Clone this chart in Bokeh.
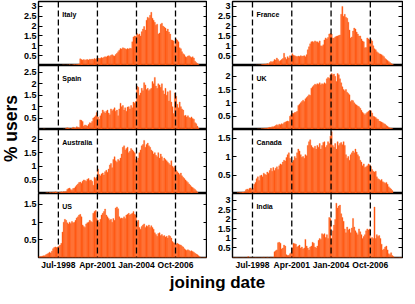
import math
import pandas as pd
from bokeh.plotting import figure
from bokeh.models import (Range1d, FixedTicker, LinearAxis, NumeralTickFormatter,
                          DatetimeTickFormatter, ColumnDataSource, Span, Label)
from bokeh.layouts import row, column
from bokeh.embed import file_html
from bokeh.resources import INLINE

# ---------------- data (monthly % of users, Jan 1997 .. Dec 2008) ----------------
start_month = "1997-01-01"
tick_dates = ["1998-07-01", "2001-04-01", "2004-01-01", "2006-10-01"]
tick_labels = ["Jul-1998", "Apr-2001", "Jan-2004", "Oct-2006"]

italy = [0,0,0,0,0,0,0,0,0,0,0,0,
         0,0,0,0,0,0,0,0,0,0.02,0.03,0.02,
         0.02,0.03,0.02,0.04,0.03,0.03,0.04,0.05,0.04,0.05,0.06,0.08,
         0.34,0.3,0.28,0.3,0.27,0.29,0.3,0.28,0.32,0.3,0.33,0.31,
         0.35,0.32,0.36,0.38,0.35,0.37,0.4,0.38,0.42,0.45,0.43,0.48,
         0.5,0.46,0.52,0.55,0.5,0.48,0.56,0.62,0.7,0.78,0.86,0.84,
         0.9,0.88,0.85,0.82,0.86,0.84,0.88,0.86,1.2,1.45,1.5,1.48,
         1.62,1.55,1.6,1.5,1.72,1.85,1.98,1.8,2.3,2.45,2.4,2.55,
         2.7,2.4,2.3,2.2,2.05,2.1,1.6,1.65,2.1,2.15,2.0,1.95,
         1.9,1.75,1.85,1.7,1.6,1.3,1.28,1.25,1.0,1.35,1.28,1.2,
         0.9,0.85,0.7,0.6,0.55,0.45,0.42,0.48,0.5,0.45,0.4,0.44,
         0.38,0.22,0.15,0.1,0.05,0,0,0,0,0,0,0]

france = [0,0,0,0,0,0,0,0,0,0,0,0,
          0,0,0,0,0,0,0,0,0,0.02,0.02,0.03,
          0.03,0.04,0.05,0.06,0.08,0.07,0.1,0.08,0.15,0.2,0.18,0.22,
          0.3,0.28,0.38,0.3,0.22,0.25,0.3,0.35,0.62,0.4,0.32,0.45,
          0.38,0.5,0.48,0.6,0.52,0.5,0.47,0.45,0.48,0.46,0.5,0.47,
          0.48,0.5,0.45,0.55,0.8,0.95,1.1,1.2,1.22,1.18,1.25,1.2,
          1.2,1.15,1.25,1.0,0.98,1.05,1.3,1.4,1.35,1.42,1.6,1.62,
          1.6,1.4,1.38,1.45,1.48,1.5,1.52,1.55,2.6,3.0,2.5,2.6,
          2.45,2.4,2.2,1.8,1.4,1.45,1.75,1.9,1.85,1.7,1.6,1.5,
          1.5,1.35,1.25,1.2,0.9,0.92,1.4,1.35,1.3,1.32,1.25,1.0,
          0.85,0.8,0.7,0.65,0.6,0.58,0.55,0.5,0.45,0.35,0.3,0.25,
          0.2,0.15,0.1,0.06,0.03,0,0,0,0,0,0,0]

spain = [0,0,0,0,0,0.02,0.02,0,0,0,0,0,
         0,0,0,0,0,0,0,0,0,0.01,0.02,0.02,
         0.05,0.08,0.06,0.04,0.03,0.05,0.1,0.08,0.06,0.12,0.1,0.08,
         0.42,0.4,0.35,0.15,0.2,0.18,0.15,0.22,0.3,0.28,0.35,0.5,
         0.55,0.6,0.74,0.55,0.45,0.6,0.7,0.85,0.78,0.72,0.8,0.85,
         0.72,0.65,0.9,0.82,0.88,0.95,0.8,0.85,0.6,0.9,1.15,1.0,
         1.05,0.85,0.95,0.8,0.98,1.0,0.9,1.05,0.95,1.2,1.15,1.22,
         1.9,1.85,1.5,1.6,1.8,1.7,2.05,1.95,1.75,1.8,1.7,1.75,
         1.8,2.1,2.0,2.28,1.9,1.8,2.0,1.95,1.85,2.0,1.7,1.55,
         1.8,1.5,1.65,1.25,1.7,1.2,1.0,0.7,1.6,1.45,1.1,0.95,
         1.2,1.0,0.9,0.85,0.6,0.62,0.55,0.6,0.52,0.5,0.55,0.48,
         0.45,0.3,0.25,0.15,0.05,0,0,0,0,0,0,0]

uk = [0,0,0,0,0,0,0,0,0,0,0,0,
      0,0,0,0,0,0,0,0,0,0.01,0.02,0.02,
      0.02,0.03,0.03,0.04,0.05,0.05,0.06,0.07,0.08,0.08,0.1,0.1,
      0.12,0.15,0.18,0.15,0.2,0.18,0.22,0.2,0.25,0.28,0.3,0.32,
      0.3,0.5,0.55,0.62,0.6,0.64,0.65,0.68,0.9,0.95,1.0,1.05,
      1.1,1.05,1.15,1.2,1.25,1.3,1.28,1.55,1.6,1.65,1.7,1.68,
      1.72,1.7,1.75,1.68,1.72,1.7,1.75,1.72,1.9,1.95,1.92,2.05,
      2.1,2.05,2.08,2.0,1.8,2.1,2.05,1.9,1.75,1.6,1.5,1.45,
      1.5,1.4,1.35,1.3,1.05,1.1,1.08,1.0,0.95,0.92,0.88,0.85,
      0.8,0.72,0.65,0.6,0.55,0.6,0.65,0.68,0.72,0.7,0.62,0.5,
      0.48,0.45,0.4,0.38,0.32,0.3,0.28,0.25,0.22,0.2,0.15,0.12,
      0.08,0.06,0.05,0.03,0,0,0,0,0,0,0,0]

australia = [0,0,0,0,0,0,0,0.02,0.03,0.02,0.03,0.04,
             0.03,0.05,0.04,0.06,0.05,0.04,0.03,0.05,0.06,0.05,0.07,0.06,
             0.08,0.15,0.18,0.2,0.15,0.12,0.18,0.2,0.25,0.3,0.35,0.4,
             0.42,0.38,0.45,0.5,0.48,0.45,0.52,0.55,0.48,0.5,0.45,0.3,
             0.6,0.55,0.6,0.9,0.7,0.65,0.72,0.75,0.68,0.8,0.85,0.78,
             0.9,1.05,1.1,0.95,1.25,1.35,1.2,1.15,1.25,1.2,1.3,1.45,
             1.7,1.75,1.6,1.65,1.7,1.5,1.55,1.65,1.6,1.55,1.5,1.25,
             1.2,1.3,1.5,1.6,1.75,1.8,1.95,1.7,1.8,1.85,1.75,1.7,
             1.6,1.55,1.45,1.5,1.4,1.35,1.5,1.3,1.45,1.35,1.2,1.3,
             1.25,1.2,1.15,1.1,1.05,1.2,1.0,0.95,1.0,0.85,0.8,0.75,
             0.7,0.75,0.65,0.6,0.55,0.5,0.45,0.4,0.35,0.3,0.25,0.22,
             0.18,0.15,0.1,0.05,0,0,0,0,0,0,0,0]

canada = [0,0,0,0,0,0.02,0.02,0.03,0.03,0.04,0.04,0.05,
          0.1,0.12,0.1,0.14,0.15,0.12,0.14,0.25,0.3,0.4,0.45,0.35,
          0.48,0.5,0.45,0.55,0.52,0.5,0.58,0.55,0.62,0.68,0.6,0.7,
          0.62,0.68,0.72,0.65,0.75,0.8,0.78,0.85,0.9,0.88,0.97,1.05,
          1.1,0.95,0.82,0.85,0.9,1.0,0.95,1.1,1.2,1.15,1.05,0.98,
          1.0,0.95,1.05,1.02,1.3,1.4,1.45,1.3,1.25,1.22,1.28,1.2,
          1.3,1.25,1.35,1.2,1.3,1.38,1.4,1.25,1.3,1.4,1.35,1.55,
          1.67,1.3,1.25,1.35,1.2,1.4,1.3,1.35,1.38,1.32,1.4,1.3,
          1.05,0.95,1.0,0.9,1.05,1.1,1.15,1.1,1.2,1.12,1.05,1.0,
          0.9,0.85,0.75,0.8,0.7,0.72,0.75,0.8,0.78,0.73,0.65,0.6,
          0.58,0.6,0.45,0.4,0.38,0.35,0.38,0.32,0.3,0.28,0.3,0.25,
          0.18,0.15,0.12,0.08,0,0,0,0,0,0,0,0]

us = [0,0.02,0.03,0.03,0.04,0.05,0.05,0.08,0.1,0.12,0.15,0.13,
      0.18,0.25,0.28,0.3,0.28,0.3,0.32,0.35,0.4,0.72,1.0,1.08,
      1.05,0.98,0.95,1.0,0.96,1.02,0.98,1.0,1.05,1.12,1.15,1.2,
      1.22,1.15,0.92,0.88,0.85,0.95,0.98,1.0,1.05,1.02,1.0,1.25,
      1.3,1.33,1.1,1.05,1.0,1.08,1.2,1.25,1.3,1.37,1.2,1.15,
      1.1,1.05,1.08,1.0,1.1,1.05,1.4,1.43,1.38,1.15,1.1,1.12,
      1.1,1.15,1.1,1.2,1.22,1.25,1.2,1.23,1.25,1.3,1.22,1.2,
      1.0,1.05,0.85,0.8,0.88,0.92,0.95,0.85,0.9,0.88,0.92,0.85,
      0.9,0.85,0.8,0.7,0.65,0.6,0.68,0.7,0.62,0.65,0.6,0.62,
      0.58,0.6,0.55,0.62,0.6,0.55,0.45,0.42,0.4,0.38,0.4,0.38,
      0.36,0.35,0.32,0.3,0.25,0.22,0.2,0.22,0.2,0.18,0.19,0.17,
      0.15,0.12,0.1,0.08,0.05,0.02,0,0,0,0,0,0]

india = [0,0,0,0,0,0,0,0,0,0,0,0,
         0,0,0.05,0,0,0,0,0,0,0,0,0,
         0,0,0,0.02,0,0,0.02,0,0,0.03,0,0.02,
         0.3,0.35,0.4,0.78,0.8,0.75,0.45,0.5,0.65,0.6,0.15,0.1,
         0.12,0.2,0.25,0.5,0.75,0.72,0.7,0.55,0.6,0.65,0.5,0.55,
         0.45,0.5,0.95,0.6,0.5,0.4,0.55,0.6,0.8,0.75,0.55,0.5,
         0.6,0.9,1.0,0.95,1.25,1.2,1.25,1.05,1.2,1.0,2.1,2.05,
         1.0,1.4,1.7,2.0,2.85,2.6,2.7,2.75,2.3,2.1,1.9,1.5,
         1.3,1.6,1.45,1.5,1.3,1.55,2.05,1.6,1.4,1.3,1.2,1.5,
         1.35,1.2,1.0,1.1,1.2,1.4,1.5,1.45,1.5,1.0,1.05,1.0,
         2.65,1.0,1.2,1.1,1.15,1.0,0.7,0.4,0.45,0.55,0.6,0.4,
         0.2,0.15,0.25,0.1,0.05,0,0,0,0,0,0,0]

y_ticks = [0.5, 1, 1.5, 2, 2.5, 3]

# panels: (name, values, y max)
left_panels = [("Italy", italy, 3.25), ("Spain", spain, 2.8),
               ("Australia", australia, 2.35), ("US", us, 1.81)]
right_panels = [("France", france, 3.25), ("UK", uk, 2.4),
                ("Canada", canada, 1.73), ("India", india, 3.36)]

# ---------------- drawing ----------------
months = pd.date_range(start_month, periods=len(italy), freq="MS")
x_mid = months + pd.Timedelta(days=15)
MS_DAY = 86400000
x0 = pd.Timestamp("1997-02-05")
x1 = pd.Timestamp("2009-01-01")
tick_ms = [pd.Timestamp(d).value // 10**6 for d in tick_dates]
name_x = pd.Timestamp("1998-10-10").value // 10**6

FONT = "Liberation Sans"
BAR_FILL = "#ff4800"
BAR_LINE = "#ff7433"
FH = 64
TOPB = 1
BOT = 12
YW = 20


def make_panel(name, vals, ymax, r, left):
    first, last = r == 0, r == 3
    p = figure(x_axis_type="datetime", x_range=Range1d(x0, x1), y_range=Range1d(0, ymax),
               frame_width=169 if left else 170, frame_height=FH,
               min_border_left=14 if left else 25, min_border_right=0 if left else 1,
               min_border_top=TOPB if first else 0, min_border_bottom=BOT if last else 0,
               x_axis_location="below" if last else None, y_axis_location="left",
               toolbar_location=None, output_backend="svg", background_fill_color="white",
               border_fill_color="white")
    p.outline_line_color = "black"
    p.outline_line_width = 1.4
    p.grid.visible = False
    src = ColumnDataSource(dict(x=x_mid, v=vals))
    p.vbar(x="x", top="v", width=28 * MS_DAY, source=src,
           fill_color=BAR_FILL, line_color=BAR_LINE, line_width=0.4)
    for t in tick_ms:
        p.add_layout(Span(location=t, dimension="height", line_color="black",
                          line_width=1.3, line_dash="6 3"))
    ticks = [t for t in y_ticks if t < ymax]
    ya = p.yaxis[0]
    ya.ticker = FixedTicker(ticks=ticks)
    ya.formatter = NumeralTickFormatter(format="0.[0]")
    ya.major_tick_in = 4
    ya.major_tick_out = 0
    ya.minor_tick_line_color = None
    ya.axis_line_color = None
    ya.major_tick_line_color = "black"
    ya.major_tick_line_width = 1.2
    ya.major_label_standoff = 2
    ya.major_label_text_font = FONT
    ya.major_label_text_font_style = "bold"
    ya.major_label_text_font_size = "9px"
    ya.major_label_text_color = "black"
    ra = LinearAxis(ticker=FixedTicker(ticks=ticks), major_tick_in=4, major_tick_out=0,
                    major_label_text_font_size="1px", major_label_text_color=None,
                    major_label_standoff=0,
                    axis_line_color=None, minor_tick_line_color=None,
                    major_tick_line_color="black", major_tick_line_width=1.2)
    p.add_layout(ra, "right")
    if last:
        xa = p.xaxis[0]
        xa.ticker = FixedTicker(ticks=tick_ms)
        fmt = "%b-%Y"
        xa.formatter = DatetimeTickFormatter(days=fmt, months=fmt, years=fmt)
        xa.major_tick_in = 0
        xa.major_tick_out = 0
        xa.minor_tick_line_color = None
        xa.axis_line_color = None
        xa.major_label_standoff = 2
        xa.major_label_text_font = FONT
        xa.major_label_text_font_style = "bold"
        xa.major_label_text_font_size = "8.5px"
        xa.major_label_text_color = "black"
    p.add_layout(Label(x=name_x, y=ymax * (1 - 13.0 / FH), text=name,
                       text_font=FONT, text_font_style="bold", text_font_size="7px",
                       text_color="black", text_baseline="middle", text_align="left"))
    return p


left_col = column([make_panel(n, v, m, i, True) for i, (n, v, m) in enumerate(left_panels)],
                  spacing=0)
right_col = column([make_panel(n, v, m, i, False) for i, (n, v, m) in enumerate(right_panels)],
                   spacing=0)


def blank(w, h):
    f = figure(width=w, height=h, x_range=Range1d(0, w), y_range=Range1d(0, h),
               min_border=0, toolbar_location=None, output_backend="svg",
               x_axis_location=None, y_axis_location=None)
    f.outline_line_color = None
    f.grid.visible = False
    return f


TOP_H = TOPB + 4 * FH + BOT
ylab = blank(YW, TOP_H)
ylab.add_layout(Label(x=YW / 2, y=TOP_H - 128, text="% users", angle=math.pi / 2,
                      text_font=FONT, text_font_style="bold", text_font_size="17.5px",
                      text_color="black", text_align="center", text_baseline="middle"))
XH = 288 - TOP_H
xlab = blank(399, XH)
xlab.add_layout(Label(x=217, y=XH / 2, text="joining date",
                      text_font=FONT, text_font_style="bold", text_font_size="17px",
                      text_color="black", text_align="center", text_baseline="middle"))

layout = column([row([ylab, left_col, right_col], spacing=0), xlab], spacing=0)

open("out.html", "w").write(file_html(layout, INLINE))
